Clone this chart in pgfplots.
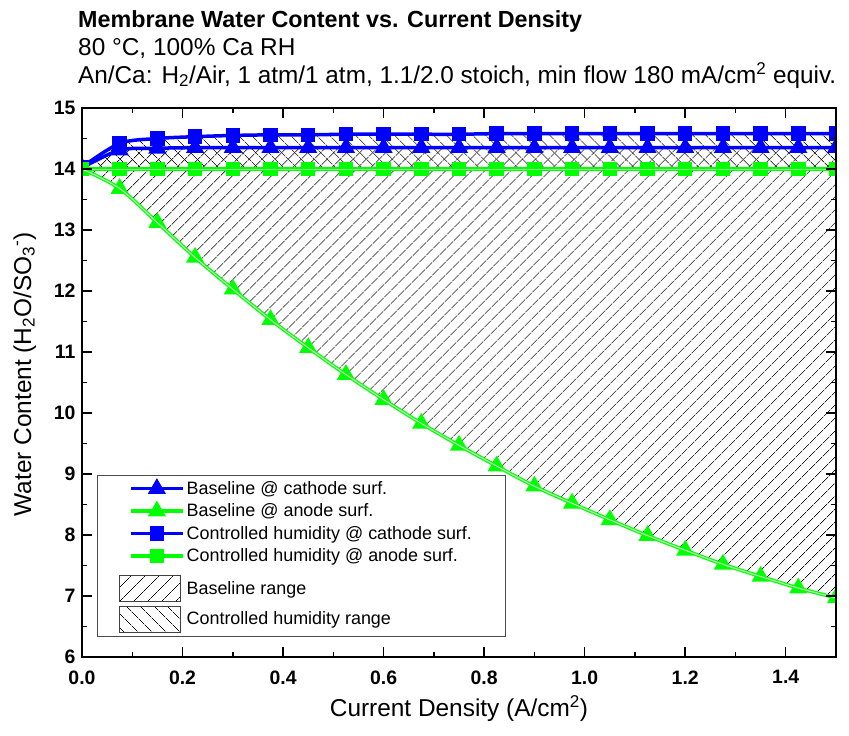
\documentclass[border=0pt]{standalone}
\usepackage{pgfplots}
\pgfplotsset{compat=1.18}
\usepackage{pgfplotstable}
\usepgfplotslibrary{fillbetween}
\usetikzlibrary{patterns.meta}
\usepackage{fontspec}
\setmainfont{Liberation Sans}

% columns: x, baseline cathode, baseline anode, controlled cathode, controlled anode
\pgfplotstableread{
x     bc    ba    cc    ca
0.000 14.02 14.00 14.03 14.00
0.075 14.31 13.68 14.42 14.00
0.150 14.34 13.12 14.50 14.00
0.225 14.35 12.55 14.53 14.00
0.300 14.35 12.03 14.55 14.00
0.375 14.35 11.53 14.56 14.00
0.450 14.35 11.07 14.56 14.00
0.525 14.35 10.63 14.57 14.00
0.600 14.35 10.22 14.57 14.00
0.675 14.35 9.83  14.57 14.00
0.750 14.35 9.47  14.57 14.00
0.825 14.35 9.13  14.58 14.00
0.900 14.35 8.80  14.58 14.00
0.975 14.35 8.52  14.58 14.00
1.050 14.35 8.25  14.58 14.00
1.125 14.35 7.99  14.58 14.00
1.200 14.35 7.75  14.58 14.00
1.275 14.35 7.52  14.58 14.00
1.350 14.35 7.32  14.58 14.00
1.425 14.35 7.13  14.58 14.00
1.500 14.35 6.97  14.58 14.00
}\data

\definecolor{ogreen}{RGB}{0,255,0}
\definecolor{oblue}{RGB}{0,0,255}

\pgfplotsset{
  linelegend/.style={legend image code/.code={
    \draw[##1, mark repeat=2, mark phase=2] plot coordinates {(11bp,0bp) (37bp,0bp) (63bp,0bp)};}},
}

\begin{document}
\begin{tikzpicture}
\begin{axis}[
  set layers, axis on top,
  scale only axis,
  width=754bp, height=549bp,
  xmin=0, xmax=1.5, ymin=6, ymax=15,
  xtick={0,0.2,...,1.4}, ytick={6,7,...,15},
  minor x tick num=1, minor y tick num=1,
  tick align=inside,
  major tick length=10bp, minor tick length=5bp,
  every tick/.style={black, line width=1.5bp},
  axis line style={line width=2bp},
  clip marker paths=true,
  /pgf/number format/assume math mode=true,
  ticklabel style={font=\fontsize{19.5}{21}\selectfont\bfseries},
  xticklabel style={yshift=-10bp, /pgf/number format/.cd, fixed, fixed zerofill, precision=1},
  yticklabel style={xshift=-3bp},
  xlabel={Current Density (A/cm\textsuperscript{2})},
  ylabel={Water Content (H\textsubscript{2}O/SO\textsubscript{3}\textsuperscript{-})},
  label style={font=\fontsize{24.5}{26}\selectfont},
  xlabel style={at={(axis description cs:0.5,0)}, anchor=base, yshift=-59bp},
  ylabel style={at={(axis description cs:-0.076,0.515)}, anchor=center},
  legend style={at={(rel axis cs:0.02,0.3315)}, anchor=north west,
    draw=black!70, line width=0.8bp, inner xsep=22bp, inner ysep=4bp,
    font=\fontsize{18}{20}\selectfont, row sep=4bp},
  legend cell align=left,
]

\addplot[oblue, line width=3.5bp, smooth, mark=triangle*, mark size=7bp,
  mark options={solid, fill=oblue}, linelegend] table[x=x, y=bc] {\data};
\addlegendentry{Baseline @ cathode surf.}

\addplot[ogreen, line width=3.5bp, smooth, mark=triangle*, mark size=7bp,
  mark options={solid, fill=ogreen}, linelegend] table[x=x, y=ba] {\data};
\addlegendentry{Baseline @ anode surf.}

\addplot[oblue, line width=3.5bp, smooth, mark=square*, mark size=5.5bp,
  mark options={solid, fill=oblue}, linelegend] table[x=x, y=cc] {\data};
\addlegendentry{Controlled humidity @ cathode surf.\hspace*{9bp}}

\addplot[ogreen, line width=3.5bp, smooth, mark=square*, mark size=5.5bp,
  mark options={solid, fill=ogreen}, linelegend] table[x=x, y=ca] {\data};
\addlegendentry{Controlled humidity @ anode surf.}

% light core of the green lines
\addplot[forget plot, white!80!ogreen, line width=1bp, smooth] table[x=x, y=ba] {\data};
\addplot[forget plot, white!80!ogreen, line width=1bp, smooth] table[x=x, y=ca] {\data};

% invisible edges for the hatched ranges
\addplot[forget plot, draw=none, name path=bc] table[x=x, y=bc] {\data};
\addplot[forget plot, draw=none, name path=ba] table[x=x, y=ba] {\data};
\addplot[forget plot, draw=none, name path=cc] table[x=x, y=cc] {\data};
\addplot[forget plot, draw=none, name path=ca] table[x=x, y=ca] {\data};

\addplot[draw=none, pattern={Lines[angle=45, distance=9.5bp, line width=0.7bp]},
  legend image code/.code={\path (0bp,19bp);
    \draw[pattern={Lines[angle=45, distance=9.5bp, line width=0.7bp]},
    draw=black!75, line width=0.8bp] (0bp,-13bp) rectangle (61bp,13bp);}]
  fill between[of=bc and ba];
\addlegendentry{Baseline range}

\addplot[draw=none, pattern={Lines[angle=-45, distance=9.5bp, line width=0.7bp]},
  legend image code/.code={\draw[pattern={Lines[angle=-45, distance=9.5bp, line width=0.7bp]},
    draw=black!75, line width=0.8bp] (0bp,-13bp) rectangle (61bp,13bp);}]
  fill between[of=cc and ca];
\addlegendentry{Controlled humidity range}

\end{axis}

\node[anchor=base west, font=\fontsize{23.4}{25}\selectfont\bfseries, inner sep=0pt]
  at ([xshift=-4bp, yshift=81bp]current axis.north west) {Membrane Water Content vs. Current Density};
\node[anchor=base west, font=\fontsize{24.5}{26}\selectfont, inner sep=0pt]
  at ([xshift=-4bp, yshift=53bp]current axis.north west) {80 \textdegree C, 100\% Ca RH};
\node[anchor=base west, font=\fontsize{24.4}{26}\selectfont, inner sep=0pt]
  at ([xshift=-4bp, yshift=25bp]current axis.north west)
  {An/Ca: H\textsubscript{2}/Air, 1 atm/1 atm, 1.1/2.0 stoich, min flow 180 mA/cm\textsuperscript{2} equiv.};

\pgfresetboundingbox
\path[use as bounding box] ([xshift=-82bp, yshift=-79bp]current axis.south west) rectangle ++(849bp,736bp);
\end{tikzpicture}
\end{document}
